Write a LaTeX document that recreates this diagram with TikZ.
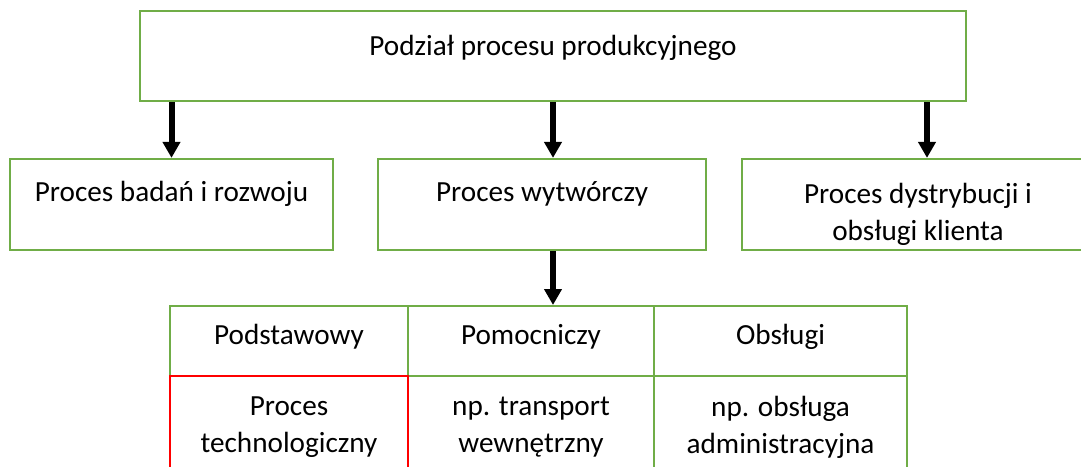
\documentclass[tikz,border=0pt]{standalone}
\usepackage{fontspec}
\setmainfont{Carlito}
\usetikzlibrary{arrows.meta}
\definecolor{boxgreen}{RGB}{112,173,71}
\pgfdeclarelayer{bg}
\pgfsetlayers{bg,main}
\tikzset{
        box/.style={draw=boxgreen, line width=1.1pt, rectangle, minimum height=45.5pt, inner sep=0pt},
        cell/.style={draw=boxgreen, line width=1pt, rectangle, align=center, inner sep=0pt},
        head/.style={cell, minimum height=35pt, text height=9pt, text depth=6pt},
        txt/.style={align=center, inner sep=0pt, anchor=base},
        arr/.style={line width=3pt, -{Triangle[length=8pt,width=8.5pt]}}
}

\begin{document}
\begin{tikzpicture}[x=0.5pt, y=-0.5pt, font=\fontsize{14.6}{18.5}\selectfont]
        \useasboundingbox (0,0) rectangle (1081,466);
        \clip (0,0) rectangle (1081,466);
        \node (podzial) [box, minimum width=413pt, minimum height=45pt, label={[txt, yshift=-23pt]north:Podział procesu produkcyjnego}] at (553, 56) {};
        \node (badania) [box, minimum width=161.5pt, label={[txt, yshift=-22pt]north:Proces badań i rozwoju}] at (171.5, 204.5) {};
        \node (wytw) [box, minimum width=164pt, label={[txt, yshift=-22pt]north:Proces wytwórczy}] at (542, 204.5) {};
        \node (dystr) [box, minimum width=176pt, label={[txt, yshift=-41.5pt]north:Proces dystrybucji i\\obsługi klienta}] at (918, 204.5) {};
        \node (podst) [head, minimum width=119pt] at (289, 341) {Podstawowy};
        \node (pomoc) [head, minimum width=123pt] at (531, 341) {Pomocniczy};
        \node (obsl) [head, minimum width=126.5pt] at (780.5, 341) {Obsługi};
        \node (transp) [cell, minimum width=123pt, minimum height=51pt] at (531, 427) {np. transport\\wewnętrzny};
        \node (admin) [cell, minimum width=126.5pt, minimum height=51pt] at (780.5, 427) {np. obsługa\\administracyjna};
        \node (techn) [cell, draw=red, line width=1.3pt, minimum width=119pt, minimum height=51pt] at (289, 427) {Proces\\technologiczny};
        \begin{pgfonlayer}{bg}
                \draw[arr] (podzial.south -| badania.north) -- (badania.north);
                \draw[arr] (podzial.south) -- (podzial.south |- wytw.north);
                \draw[arr] ([xshift=4.5pt]podzial.south -| dystr.north) -- ([xshift=4.5pt]dystr.north);
                \draw[arr] (wytw.south -| podzial.south) -- (pomoc.north -| podzial.south);
        \end{pgfonlayer}
\end{tikzpicture}
\end{document}
